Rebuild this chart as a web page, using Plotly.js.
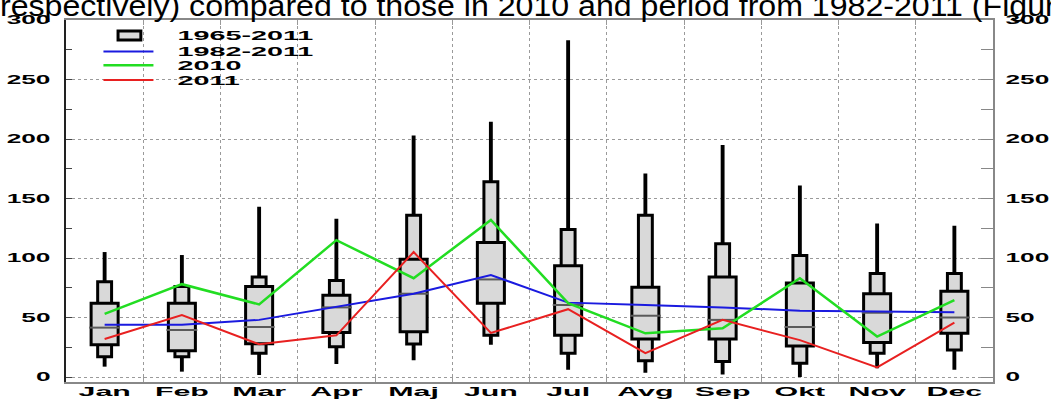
<!DOCTYPE html>
<html>
<head>
<meta charset="utf-8">
<script src="https://cdn.plot.ly/plotly-3.0.1.min.js"></script>
<style>
  html, body { margin: 0; padding: 0; background: #fff; }
  #chart { width: 1051px; height: 401px; }
  #chart .infolayer * { clip-path: none !important; }
  #chart .infolayer g.legend .legendpoints path { transform: translateX(31px) scale(1.9, 0.75); vector-effect: non-scaling-stroke; }
</style>
</head>
<body>
<div id="chart"></div>
<script>
// Months (categories)
const months = ['Jan','Feb','Mar','Apr','Maj','Jun','Jul','Avg','Sep','Okt','Nov','Dec'];

// 1965-2011 distribution per month
const wMin = [8.7, 4.5, 1.7, 11, 14, 27, 6, 3.6, 2, 0, 7.3, 6];
const p10  = [17, 17, 20, 25.5, 27.7, 35, 20, 13.7, 13, 11.5, 20, 22.7];
const q1   = [27, 22, 28, 37.5, 38, 62, 35, 32, 32, 26, 29, 36.7];
const med  = [41.5, 39.5, 42, 58.5, 70, 82, 60.5, 51.5, 48, 42, 54, 50];
const q3   = [62, 62, 76, 68.6, 99, 113, 93.5, 75.4, 84, 79, 70, 72];
const p90  = [80, 76, 84, 81, 136, 164, 124, 136, 112, 102, 87, 87];
const wMax = [105, 102.5, 143, 133, 203, 214.5, 283, 171, 195, 161, 129, 127];

// Line series
const s1982_2011 = [44, 44, 48, 59, 70, 85.7, 62.5, 60.5, 58.5, 55.7, 55, 54.4];
const s2010      = [53, 78, 61, 115, 83, 132, 62, 36.7, 41, 83, 34, 64.7];
const s2011      = [32, 52, 27.5, 35, 105, 37, 57, 20, 48, 31, 8, 45.6];

// Y tick values
const yTicks = [0, 50, 100, 150, 200, 250, 300];

const topText = 'respectively) compared to those in 2010 and period from 1982-2011 (Figur';

const diff = (a, b) => a.map((v, i) => v - b[i]);

const xFont = {family: 'Liberation Sans', size: 13.5, weight: 'bold', color: '#000'};
const yFont = {family: 'Liberation Sans', size: 12.5, weight: 'bold', color: '#000'};
const legFont = {family: 'Liberation Sans', size: 12.5, weight: 'bold', color: '#000'};

const data = [
  { // whiskers
    type: 'bar', x: months, base: wMin, y: diff(wMax, wMin), width: 0.05,
    marker: {color: '#000', line: {width: 0}}, showlegend: false, hoverinfo: 'skip'
  },
  { // 10-90 narrow box
    type: 'bar', x: months, base: p10, y: diff(p90, p10), width: 0.18,
    marker: {color: '#d9d9d9', line: {color: '#000', width: 3}}, showlegend: false, hoverinfo: 'skip'
  },
  { // 25-75 wide box
    type: 'bar', name: '1965-2011', x: months, base: q1, y: diff(q3, q1), width: 0.35,
    marker: {color: '#d9d9d9', line: {color: '#000', width: 3}}, showlegend: true, legend: 'legend'
  },
  { // median
    type: 'scatter', mode: 'markers', x: months, y: med,
    marker: {symbol: 'line-ew', size: 22, line: {color: '#5a5a5a', width: 2}},
    showlegend: false, hoverinfo: 'skip'
  },
  {
    type: 'scatter', mode: 'lines', name: '1982-2011', x: months, y: s1982_2011,
    line: {color: '#1a1adf', width: 2}, legend: 'legend2'
  },
  {
    type: 'scatter', mode: 'lines', name: '2010', x: months, y: s2010,
    line: {color: '#22dd22', width: 2.5}, legend: 'legend3'
  },
  {
    type: 'scatter', mode: 'lines', name: '2011', x: months, y: s2011,
    line: {color: '#e82020', width: 2}, legend: 'legend4'
  },
  { // carrier for right axis
    type: 'scatter', mode: 'markers', x: months, y: s1982_2011, yaxis: 'y2',
    marker: {opacity: 0}, showlegend: false, hoverinfo: 'skip'
  }
];

const yRange = [-4.2, 300];

function legendAt(y) {
  return {
    x: 0.035, y: y, xanchor: 'left', yanchor: 'middle',
    bgcolor: 'rgba(0,0,0,0)', borderwidth: 0, font: legFont, itemwidth: 50
  };
}

const layout = {
  width: 1051, height: 401,
  margin: {l: 66, r: 58, t: 20, b: 19},
  paper_bgcolor: '#fff', plot_bgcolor: '#fff',
  barmode: 'overlay',
  showlegend: true,
  legend: legendAt(0.956),
  legend2: legendAt(0.912),
  legend3: legendAt(0.874),
  legend4: legendAt(0.833),
  xaxis: {
    type: 'category', range: [-0.5, 11.5], tickson: 'boundaries',
    ticks: 'inside', ticklen: 5, tickcolor: '#999', mirror: 'ticks',
    showline: true, linecolor: '#888', linewidth: 2,
    showgrid: true, gridcolor: '#9a9a9a', griddash: 'dot', gridwidth: 1,
    tickfont: xFont, ticklabelstandoff: -4, fixedrange: true
  },
  yaxis: {
    range: yRange, tickvals: yTicks, ticktext: yTicks.map(String),
    ticks: 'inside', ticklen: 6, tickcolor: '#444',
    minor: {dtick: 25, tick0: 0, ticks: 'inside', ticklen: 6, tickcolor: '#444', showgrid: false},
    showline: true, linecolor: '#222', linewidth: 2,
    showgrid: true, gridcolor: '#9a9a9a', griddash: 'dot', gridwidth: 1,
    zeroline: false, tickfont: yFont, ticklabelstandoff: 11
  },
  yaxis2: {
    overlaying: 'y', side: 'right', range: yRange, tickvals: yTicks, ticktext: yTicks.map(String),
    ticks: 'inside', ticklen: 12, tickcolor: '#888',
    minor: {dtick: 25, tick0: 0, ticks: 'inside', ticklen: 12, tickcolor: '#888', showgrid: false},
    showline: true, linecolor: '#888', linewidth: 2, showgrid: false, zeroline: false,
    tickfont: yFont, ticklabelstandoff: 8
  },
  annotations: [{
    text: topText, xref: 'paper', yref: 'paper', x: -0.0735, y: 0.9876,
    xanchor: 'left', yanchor: 'bottom', align: 'left', showarrow: false,
    font: {family: 'Liberation Sans', size: 30, color: '#000'}
  }]
};

// The original figure's lettering is horizontally stretched; reproduce that look.
function stretchEl(t, k, shift) {
  if (t.getAttribute('data-done') === '1' &&
      (!shift || t.getAttribute('x') === t.getAttribute('data-x'))) return;
  t.removeAttribute('textLength');
  var w = t.getComputedTextLength();
  if (!w) return;
  t.setAttribute('textLength', (w * k).toFixed(1));
  t.setAttribute('lengthAdjust', 'spacingAndGlyphs');
  if (shift) {
    var nx = (parseFloat(t.getAttribute('x') || 0) + shift).toFixed(1);
    t.setAttribute('x', nx);
    t.setAttribute('data-x', nx);
  }
  t.setAttribute('data-done', '1');
}
function fixText(gd) {
  gd.querySelectorAll('g.xtick text').forEach(function (t) { stretchEl(t, 2.25, 0); });
  gd.querySelectorAll('g.ytick text, g.y2tick text').forEach(function (t) { stretchEl(t, 2.1, 0); });
  gd.querySelectorAll('.infolayer text[class^="legend"]').forEach(function (t) { stretchEl(t, 2.3, 19); });
  gd.querySelectorAll('text.annotation-text').forEach(function (t) { stretchEl(t, 1.07, 0); });
}

Plotly.newPlot('chart', data, layout, {staticPlot: true, displayModeBar: false}).then(function (gd) {
  gd.on('plotly_afterplot', function () { fixText(gd); });
  fixText(gd);
  requestAnimationFrame(function () { fixText(gd); });
  setTimeout(function () { fixText(gd); }, 50);
});
</script>
</body>
</html>
